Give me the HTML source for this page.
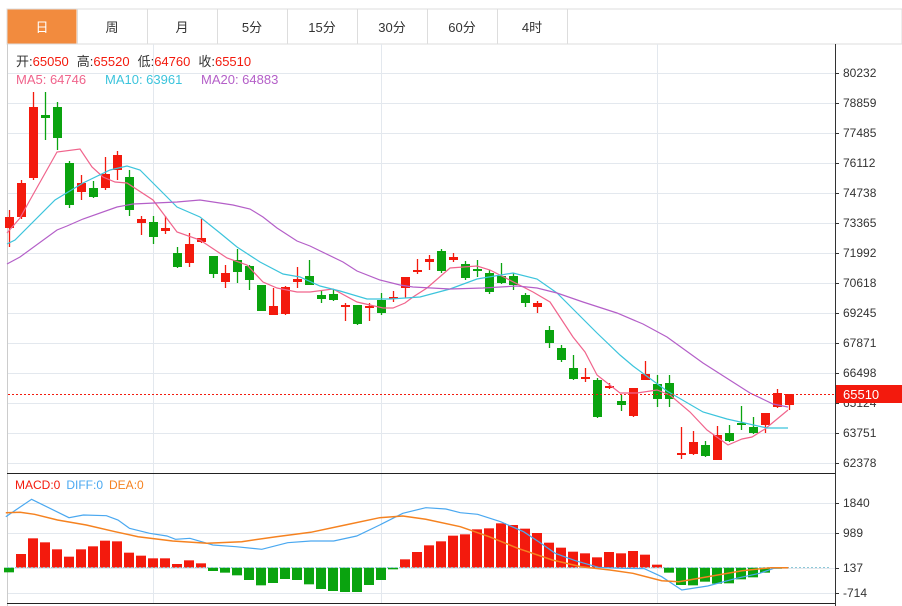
<!DOCTYPE html>
<html><head><meta charset="utf-8"><style>
body{margin:0;background:#fff;width:902px;height:606px;overflow:hidden;font-family:"Liberation Sans","Noto Sans CJK SC",sans-serif}
</style></head><body>
<svg id="s" width="902" height="606" xmlns="http://www.w3.org/2000/svg" style="position:absolute;left:0;top:0;font-family:'Liberation Sans','Noto Sans CJK SC',sans-serif"></svg>
<script>
var s=document.getElementById('s'),h='';
// tabs
h+='<rect x="7" y="9" width="895" height="35" fill="#fff" stroke="#ddd"/>';
var tabs=['日','周','月','5分','15分','30分','60分','4时'];
for(var i=0;i<8;i++){var x=7+70*i;
 if(i==0)h+='<rect x="7.5" y="9.5" width="69" height="34" fill="#f28b3e"/>';
 h+='<line x1="'+(x+70.5)+'" y1="9" x2="'+(x+70.5)+'" y2="44" stroke="#ddd"/>';
 h+='<text x="'+(x+35)+'" y="32" font-size="13" text-anchor="middle" fill="'+(i==0?'#fff':'#333')+'">'+tabs[i]+'</text>';}
// grid
var ticks=['80232','78859','77485','76112','74738','73365','71992','70618','69245','67871','66498','65124','63751','62378'];
for(var i=0;i<14;i++){var y=73+30*i;h+='<line x1="7" y1="'+(y+.5)+'" x2="835" y2="'+(y+.5)+'" stroke="#e3e8ee"/>';
 h+='<line x1="835" y1="'+(y+.5)+'" x2="839" y2="'+(y+.5)+'" stroke="#333"/>';
 h+='<text x="843" y="'+(y+4)+'" font-size="12" fill="#333">'+ticks[i]+'</text>';}
[153.5,381.5,657.5].forEach(function(x){h+='<line x1="'+x+'" y1="44" x2="'+x+'" y2="603" stroke="#e3e8ee"/>';});
[503,533,568,593].forEach(function(y){h+='<line x1="7" y1="'+(y+.5)+'" x2="835" y2="'+(y+.5)+'" stroke="#e3e8ee"/>';});
// borders
h+='<line x1="7.5" y1="44" x2="7.5" y2="606" stroke="#ccc"/>';
h+='<line x1="835.5" y1="44" x2="835.5" y2="606" stroke="#333"/>';
h+='<line x1="7" y1="473.5" x2="835" y2="473.5" stroke="#222"/>';
h+='<line x1="7" y1="603.5" x2="835" y2="603.5" stroke="#222"/>';
// candles
var c=[[9,'r',217,228,210,247],[21,'r',183,217,180,219],[33,'r',107,178,92,180],[45,'g',115,118,92,140],[57,'g',107,138,102,150],[69,'g',163,205,161,208],[81,'r',183,192,175,200],[93,'g',188,197,181,198],[105,'r',174,188,157,190],[117,'r',155,170,151,180],[129,'g',177,210,170,216],[141,'r',219,223,216,235],[153,'g',222,237,216,244],[165,'r',228,231,216,234],[177,'g',253,267,247,268],[189,'r',244,263,233,267],[201,'r',238,242,219,243],[213,'g',256,274,256,278],[225,'r',273,282,265,288],[237,'g',260,272,249,283],[249,'g',266,280,265,290],[261,'g',285,311,285,311],[273,'r',306,315,288,315],[285,'r',287,314,286,315],[297,'r',279,282,267,288],[309,'g',276,285,260,285],[321,'g',295,299,290,303],[333,'g',294,300,289,301],[345,'r',305,307,303,321],[357,'g',305,324,305,325],[369,'r',306,308,303,321],[381,'g',300,313,293,315],[393,'r',297,299,291,302],[405,'r',277,288,277,298],[417,'r',270,272,259,274],[429,'r',259,262,255,270],[441,'g',251,271,249,273],[453,'r',257,260,253,262],[465,'g',264,278,261,280],[477,'g',269,271,260,277],[489,'g',273,292,270,294],[501,'g',276,283,263,284],[513,'g',276,285,273,290],[525,'g',295,303,293,307],[537,'r',303,307,301,313],[549,'g',330,343,326,348],[561,'g',348,360,345,362],[573,'g',368,379,355,380],[585,'r',377,379,368,382],[597,'g',380,417,378,418],[609,'r',386,388,383,389],[621,'g',401,405,395,411],[633,'r',388,416,388,417],[645,'r',374,380,361,380],[657,'g',384,399,375,407],[669,'g',383,399,375,407],[681,'r',453,455,427,459],[693,'r',442,454,431,455],[705,'g',445,456,441,457],[717,'r',435,460,426,460],[729,'g',433,441,425,442],[741,'g',423,425,406,430],[753,'g',427,433,417,434],[765,'r',413,425,413,433],[777,'r',393,407,389,408],[789,'r',394,405,394,410]];
c.forEach(function(d){var col=d[1]=='r'?'#f31a0d':'#0aa30f';
 h+='<line x1="'+(d[0]+.5)+'" y1="'+d[4]+'" x2="'+(d[0]+.5)+'" y2="'+d[5]+'" stroke="'+col+'" stroke-width="1.3"/>';
 h+='<rect x="'+(d[0]-4)+'" y="'+d[2]+'" width="9" height="'+Math.max(2,d[3]-d[2])+'" fill="'+col+'"/>';});
function pl(p,col,w){return '<polyline fill="none" stroke="'+col+'" stroke-width="'+(w||1.2)+'" points="'+p.map(function(a){return a.join(',')}).join(' ')+'"/>';}
h+=pl([[7,233],[20,218],[30,200],[57,152],[80,149],[92,167],[103,177],[115,182],[127,183],[153,200],[177,232],[200,240],[227,258],[247,265],[263,282],[277,288],[297,292],[310,292],[333,289],[357,302],[383,308],[393,308],[405,303],[413,297],[427,288],[450,268],[477,266],[490,270],[533,292],[550,302],[573,337],[585,352],[597,375],[620,393],[637,393],[657,390],[670,395],[690,412],[707,430],[728,445],[742,439],[752,437],[765,429],[788,410]],'#f0648c');
h+=pl([[7,244],[15,240],[55,200],[83,183],[110,170],[127,166],[140,170],[170,200],[177,207],[200,217],[220,233],[237,247],[260,262],[283,274],[300,277],[320,286],[340,291],[367,299],[390,299],[420,297],[450,289],[477,279],[513,273],[537,279],[557,293],[573,309],[597,333],[620,355],[633,366],[667,391],[703,412],[727,419],[767,428],[788,428]],'#3cc4dc');
h+=pl([[7,264],[20,257],[57,230],[67,226],[83,219],[117,207],[133,204],[177,202],[200,200],[233,205],[250,209],[263,217],[277,228],[297,241],[310,246],[343,262],[357,271],[380,280],[400,285],[413,287],[450,289],[483,288],[517,286],[537,288],[557,293],[583,302],[617,313],[643,324],[667,337],[703,363],[750,393],[773,404],[788,407]],'#b45fc8');
// price line
h+='<line x1="8" y1="394.5" x2="835" y2="394.5" stroke="#f31a0d" stroke-dasharray="2,2"/>';
h+='<rect x="836" y="385" width="66" height="18" fill="#f31a0d"/><text x="843" y="399" font-size="13" fill="#fff">65510</text>';
// legends
h+='<text y="66" font-size="13"><tspan x="16" fill="#333">开:</tspan><tspan fill="#f31a0d">65050</tspan><tspan dx="8" fill="#333">高:</tspan><tspan fill="#f31a0d">65520</tspan><tspan dx="8" fill="#333">低:</tspan><tspan fill="#f31a0d">64760</tspan><tspan dx="8" fill="#333">收:</tspan><tspan fill="#f31a0d">65510</tspan></text>';
h+='<text y="84" font-size="13"><tspan x="16" fill="#f0648c">MA5: 64746</tspan><tspan x="105" fill="#3cc4dc">MA10: 63961</tspan><tspan x="201" fill="#b45fc8">MA20: 64883</tspan></text>';
// MACD
h+='<text y="489" font-size="12"><tspan x="15" fill="#f31a0d">MACD:0</tspan><tspan dx="6" fill="#4aa8f0">DIFF:0</tspan><tspan dx="6" fill="#f58220">DEA:0</tspan></text>';
[['1840',503],['989',533],['137',568],['-714',593]].forEach(function(t){h+='<line x1="835" y1="'+(t[1]+.5)+'" x2="839" y2="'+(t[1]+.5)+'" stroke="#333"/><text x="843" y="'+(t[1]+4)+'" font-size="12" fill="#333">'+t[0]+'</text>';});
var z=567.7;
var hb=[307,252,205,217,238,260,238,229,212,214,248,257,265,265,282,271,280,303,308,316,330,346,339,327,330,343,357,363,366,366,345,330,298,268,246,226,214,197,193,178,175,160,165,176,189,218,233,245,250,262,246,250,243,254,284,308,345,346,335,341,340,328,322,308,296];
hb.forEach(function(v,i){var x=9+12*i,y=470+v/3,col=y>z?'#0aa30f':'#f31a0d';
 h+='<rect x="'+(x-5)+'" y="'+Math.min(y,z)+'" width="10" height="'+Math.max(1,Math.abs(y-z))+'" fill="'+col+'"/>';});
h+='<line x1="7" y1="567.5" x2="830" y2="567.5" stroke="#8cc8d8" stroke-dasharray="2,2"/>';
function cv(a){return a.map(function(p){return [ (p[0]/1.738).toFixed(1), (470+p[1]/3).toFixed(1)];});}
h+=pl(cv([[10,140],[55,88],[120,143],[145,135],[185,137],[205,150],[225,175],[260,190],[290,198],[305,208],[330,205],[370,225],[410,230],[455,238],[500,218],[540,213],[580,213],[620,198],[660,165],[700,130],[740,113],[775,117],[800,128],[830,133],[870,155],[910,185],[940,220],[965,250],[1000,272],[1040,292],[1080,295],[1120,296],[1150,320],[1185,360],[1230,348],[1280,325],[1320,310],[1345,295],[1370,293]]),'#4aa8f0');
h+=pl(cv([[10,128],[35,127],[60,133],[100,150],[150,165],[200,185],[240,200],[300,213],[360,220],[420,215],[480,200],[540,187],[600,165],[660,143],[700,138],[740,148],[800,170],[850,200],[900,235],[960,270],[1010,290],[1060,300],[1100,310],[1150,332],[1180,335],[1230,320],[1290,302],[1340,293],[1370,293]]),'#f58220',1.5);
s.innerHTML=h;
</script>
</body></html>
